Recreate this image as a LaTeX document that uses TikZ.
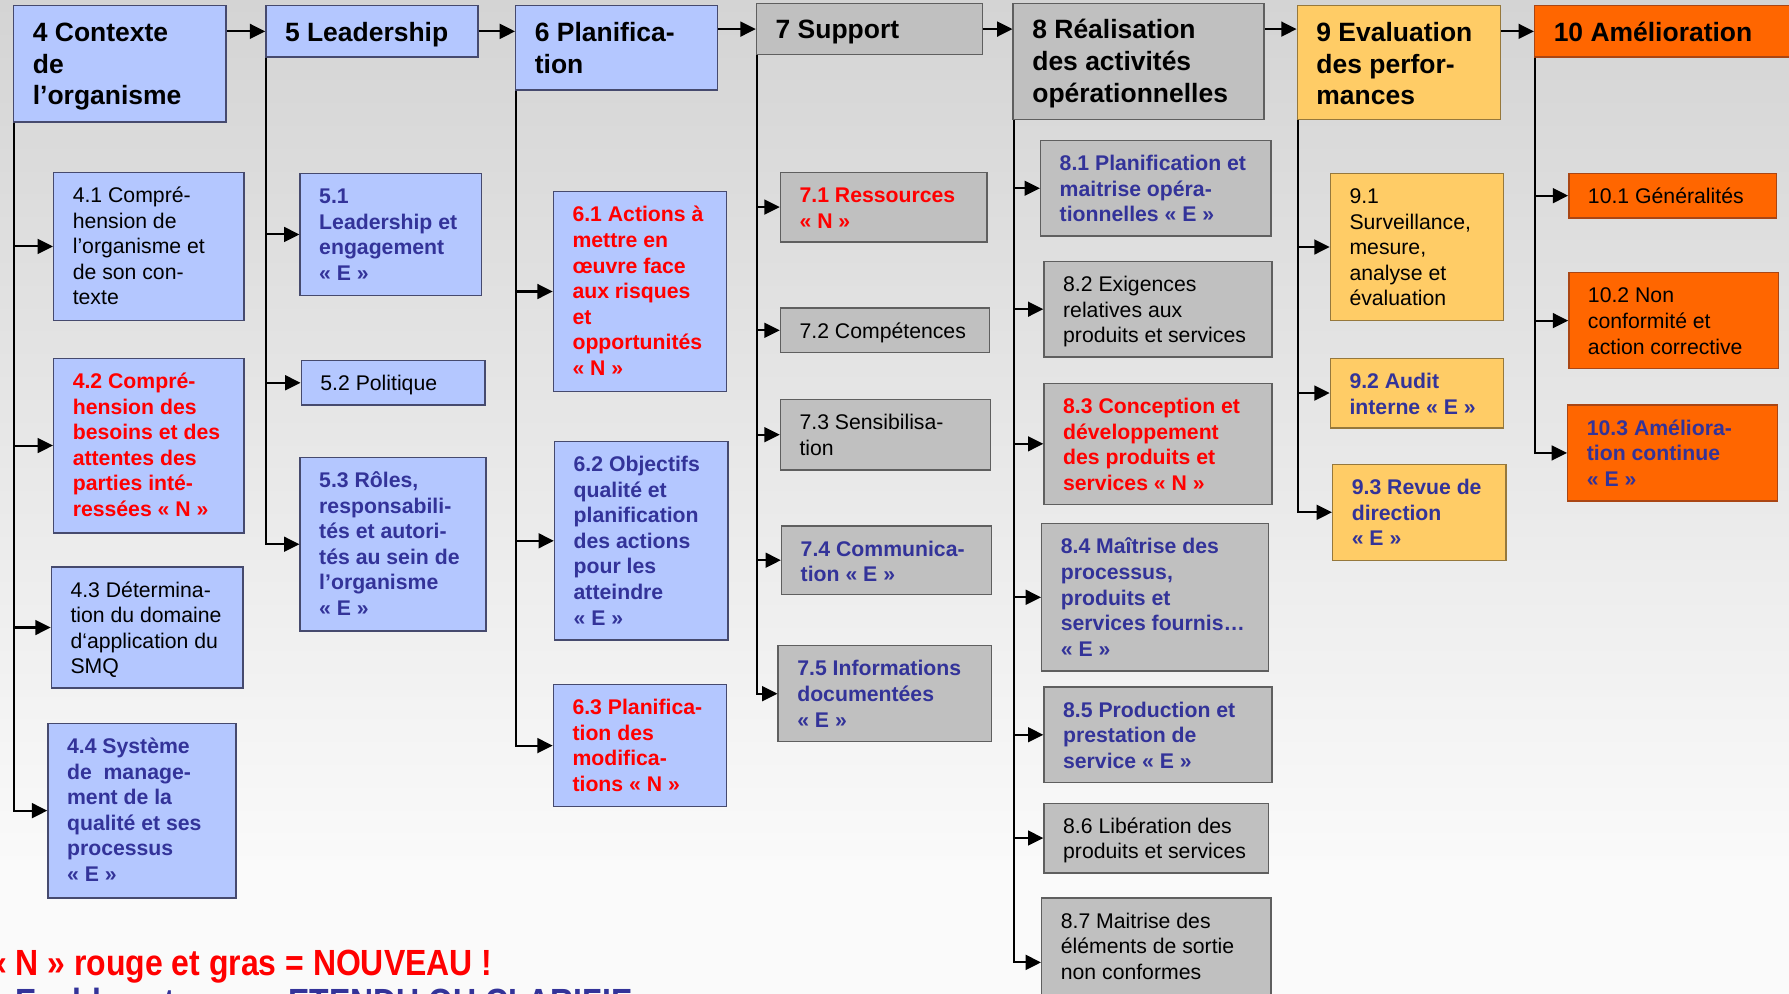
\documentclass[tikz,border=0pt]{standalone}
\usepackage{fontspec}
\setmainfont{Liberation Sans}
\usepackage{graphicx}
\usetikzlibrary{arrows.meta,fit,calc}
\definecolor{nred}{RGB}{255,0,0}
\definecolor{eblue}{RGB}{51,51,153}
\definecolor{fblue}{RGB}{180,199,255}
\definecolor{fgray}{RGB}{192,192,192}
\definecolor{fyel}{RGB}{255,204,102}
\definecolor{forg}{RGB}{255,102,0}
\definecolor{dblue}{RGB}{70,74,110}
\definecolor{dgray}{RGB}{95,95,95}
\definecolor{dyel}{RGB}{150,120,60}
\definecolor{dorg}{RGB}{170,70,20}
\definecolor{bgtop}{RGB}{212,212,212}
\definecolor{bgbot}{RGB}{250,250,250}
\newcommand{\cbox}[8]{\node[#2, fit={(#4,#5) (#6,#7)}, label={[#3]north west:{\strut #8}}] (#1) {};}
\tikzset{
  boxbase/.style={line width=0.6pt, inner sep=0pt},
  bluebox/.style={boxbase, draw=dblue, fill=fblue},
  graybox/.style={boxbase, draw=dgray, fill=fgray},
  yelbox/.style={boxbase, draw=dyel, fill=fyel},
  orgbox/.style={boxbase, draw=dorg, fill=forg},
  lab/.style={anchor=north west, inner sep=0pt, align=left, xshift=8.5pt, yshift=-5.5pt},
  hl/.style={anchor=north west, inner sep=0pt, align=left, xshift=8.5pt, yshift=-5.8pt,
    font=\fontsize{11.6}{14}\selectfont\bfseries, text=black},
  rg/.style={lab, font=\fontsize{9.3}{11.2}\selectfont, text=black},
  bred/.style={lab, font=\fontsize{9.3}{11.2}\selectfont\bfseries, text=nred},
  bblue/.style={lab, font=\fontsize{9.3}{11.2}\selectfont\bfseries, text=eblue},
  arr/.style={draw=black, line width=0.9pt, -{Triangle[length=6.7pt,width=6.5pt]}},
  legend/.style={anchor=base west, inner sep=0pt, font=\fontsize{14}{16}\selectfont\bfseries},
}
\begin{document}
\begin{tikzpicture}[x=0.5pt, y=-0.5pt]
\useasboundingbox (0,0) rectangle (1568,871);
\clip (0,0) rectangle (1568,871);
\fill[bgbot] (0,0) rectangle (1568,871);
\shade[top color=bgtop, bottom color=bgbot] (0,0) rectangle (1568,760);

% headers
\cbox{h4}{bluebox}{hl}{12}{5}{198}{107}{4 Contexte\\de\\l’organisme}
\cbox{h5}{bluebox}{hl}{233}{5}{419}{50}{5 Leadership}
\cbox{h6}{bluebox}{hl}{452}{5}{629}{79}{6 Planifica-\\tion}
\cbox{h7}{graybox}{hl}{663}{3}{861}{48}{7 Support}
\cbox{h8}{graybox}{hl}{888}{3}{1108}{105}{8 Réalisation\\des activités\\opérationnelles}
\cbox{h9}{yelbox}{hl}{1137}{5}{1315}{105}{9 Evaluation\\des perfor-\\mances}
\cbox{h10}{orgbox}{hl}{1345}{5}{1600}{50}{10 Amélioration}

% column 4
\cbox{b41}{bluebox}{rg}{47}{151}{214}{281}{4.1 Compré-\\hension de\\l’organisme et\\de son con-\\texte}
\cbox{b42}{bluebox}{bred}{47}{314}{214}{467}{4.2 Compré-\\hension des\\besoins et des\\attentes des\\parties inté-\\ressées « N »}
\cbox{b43}{bluebox}{rg}{45}{497}{213}{603}{4.3 Détermina-\\tion du domaine\\d‘application du\\SMQ}
\cbox{b44}{bluebox}{bblue}{42}{634}{207}{787}{4.4 Système\\de~ manage-\\ment de la\\qualité et ses\\processus\\« E »}
% column 5
\cbox{b51}{bluebox}{bblue}{263}{152}{422}{259}{5.1\\Leadership et\\engagement\\« E »}
\cbox{b52}{bluebox}{rg}{264}{316}{425}{355}{5.2 Politique}
\cbox{b53}{bluebox}{bblue}{263}{401}{426}{553}{5.3 Rôles,\\responsabili-\\tés et autori-\\tés au sein de\\l’organisme\\« E »}
% column 6
\cbox{b61}{bluebox}{bred}{485}{168}{637}{343}{6.1 Actions à\\mettre en\\œuvre face\\aux risques\\et\\opportunités\\« N »}
\cbox{b62}{bluebox}{bblue}{486}{387}{638}{561}{6.2 Objectifs\\qualité et\\planification\\des actions\\pour les\\atteindre\\« E »}
\cbox{b63}{bluebox}{bred}{485}{600}{637}{707}{6.3 Planifica-\\tion des\\modifica-\\tions « N »}
% column 7
\cbox{b71}{graybox}{bred}{684}{151}{865}{212}{7.1 Ressources\\« N »}
\cbox{b72}{graybox}{rg}{684}{270}{867}{309}{7.2 Compétences}
\cbox{b73}{graybox}{rg}{684}{350}{868}{412}{7.3 Sensibilisa-\\tion}
\cbox{b74}{graybox}{bblue}{685}{461}{869}{521}{7.4 Communica-\\tion « E »}
\cbox{b75}{graybox}{bblue}{682}{566}{869}{650}{7.5 Informations\\documentées\\« E »}
% column 8
\cbox{b81}{graybox}{bblue}{912}{123}{1114}{207}{8.1 Planification et\\maitrise opéra-\\tionnelles « E »}
\cbox{b82}{graybox}{rg}{915}{229}{1115}{313}{8.2 Exigences\\relatives aux\\produits et services}
\cbox{b83}{graybox}{bred}{915}{336}{1115}{442}{8.3 Conception et\\développement\\des produits et\\services « N »}
\cbox{b84}{graybox}{bblue}{913}{459}{1112}{588}{8.4 Maîtrise des\\processus,\\produits et\\services fournis…\\« E »}
\cbox{b85}{graybox}{bblue}{915}{602}{1115}{686}{8.5 Production et\\prestation de\\service « E »}
\cbox{b86}{graybox}{rg}{915}{704}{1112}{765}{8.6 Libération des\\produits et services}
\cbox{b87}{graybox}{rg}{913}{787}{1114}{900}{8.7 Maitrise des\\éléments de sortie\\non conformes}
% column 9
\cbox{b91}{yelbox}{rg}{1166}{152}{1318}{281}{9.1\\Surveillance,\\mesure,\\analyse et\\évaluation}
\cbox{b92}{yelbox}{bblue}{1166}{314}{1318}{375}{9.2 Audit\\interne « E »}
\cbox{b93}{yelbox}{bblue}{1168}{407}{1320}{491}{9.3 Revue de\\direction\\« E »}
% column 10
\cbox{b101}{orgbox}{rg}{1375}{152}{1557}{191}{10.1 Généralités}
\cbox{b102}{orgbox}{rg}{1375}{239}{1559}{323}{10.2 Non\\conformité et\\action corrective}
\cbox{b103}{orgbox}{bblue}{1374}{355}{1558}{439}{10.3 Améliora-\\tion continue\\« E »}

% header arrows
\draw[arr] (h4.east |- h5.west) -- (h5.west);
\draw[arr] (h5.east) -- (h5.east -| h6.west);
\draw[arr] (h6.east |- h7.west) -- (h7.west);
\draw[arr] (h7.east) -- (h7.east -| h8.west);
\draw[arr] (h8.east |- h7.east) -- (h7.east -| h9.west);
\draw[arr] (h9.east |- h10.west) -- (h10.west);

% trunks
\foreach \b in {b41,b42,b43,b44} \draw[arr] ([xshift=0.5pt]h4.south west) |- (\b.west);
\foreach \b in {b51,b52,b53} \draw[arr] ([xshift=0.5pt]h5.south west) |- (\b.west);
\foreach \b in {b61,b62,b63} \draw[arr] ([xshift=0.5pt]h6.south west) |- (\b.west);
\foreach \b in {b71,b72,b73,b74,b75} \draw[arr] ([xshift=0.5pt]h7.south west) |- (\b.west);
\foreach \b in {b81,b82,b83,b84,b85,b86,b87} \draw[arr] ([xshift=0.5pt]h8.south west) |- (\b.west);
\foreach \b in {b91,b92,b93} \draw[arr] ([xshift=0.5pt]h9.south west) |- (\b.west);
\foreach \b in {b101,b102,b103} \draw[arr] ([xshift=0.5pt]h10.south west) |- (\b.west);

% legend
\node[legend, text=nred] (lg1) at (-10,855) {\scalebox{1}[1.14]{« N » rouge et gras = NOUVEAU !}};
\node[legend, text=eblue] (lg2) at (-10,889) {\scalebox{1}[1.14]{« E » bleu et gras = ETENDU OU CLARIFIE}};
\end{tikzpicture}
\end{document}
